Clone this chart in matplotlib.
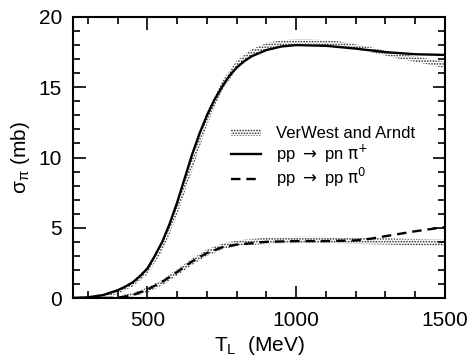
import matplotlib
matplotlib.use("Agg")
import matplotlib.pyplot as plt
from matplotlib.patches import Patch
from matplotlib.lines import Line2D
from matplotlib.ticker import MultipleLocator

plt.rcParams['font.family'] = ['Liberation Sans', 'DejaVu Sans']
plt.rcParams['hatch.linewidth'] = 0.8

# pp -> pn pi+ (model)
t_pn = [250, 300, 350, 400, 425, 450, 475, 500, 525, 550, 575, 600, 625, 650, 675, 700,
        725, 750, 775, 800, 825, 850, 900, 950, 1000, 1100, 1200, 1300, 1400, 1500]
s_pn = [0, 0.05, 0.2, 0.55, 0.8, 1.1, 1.55, 2.1, 3.0, 4.0, 5.3, 6.8, 8.5, 10.2, 11.7, 13.0,
        14.1, 15.0, 15.8, 16.4, 16.85, 17.2, 17.65, 17.9, 18.0, 17.95, 17.75, 17.5, 17.35, 17.3]

# pp -> pp pi0 (model)
t_pp = [250, 300, 350, 400, 450, 500, 550, 600, 650, 700, 750, 800, 900, 1000, 1100,
        1200, 1250, 1300, 1400, 1500]
s_pp = [0, 0, 0, 0.02, 0.2, 0.6, 1.15, 1.85, 2.6, 3.2, 3.6, 3.8, 4.0, 4.05, 4.05,
        4.1, 4.22, 4.4, 4.75, 5.05]

# VerWest and Arndt bands
t_vw1 = [300, 350, 400, 450, 500, 550, 600, 650, 700, 750, 800, 850, 900, 950, 1000,
         1050, 1100, 1150, 1200, 1250, 1300, 1350, 1400, 1450, 1500]
lo_vw1 = [0, 0.05, 0.3, 0.8, 1.7, 3.3, 5.9, 9.1, 12.3, 14.7, 16.3, 17.2, 17.7, 17.95, 18.05,
          18.05, 18.0, 17.9, 17.75, 17.5, 17.25, 17.0, 16.8, 16.6, 16.35]
hi_vw1 = [0.1, 0.3, 0.6, 1.2, 2.2, 4.0, 6.8, 10.0, 13.2, 15.4, 16.9, 17.7, 18.15, 18.35, 18.4,
          18.4, 18.35, 18.25, 18.05, 17.85, 17.6, 17.4, 17.2, 17.0, 16.8]

t_vw0 = [400, 450, 500, 550, 600, 650, 700, 750, 800, 900, 1000, 1100, 1200, 1300, 1400, 1500]
lo_vw0 = [0, 0.1, 0.4, 0.9, 1.6, 2.35, 3.0, 3.45, 3.7, 3.85, 3.9, 3.9, 3.85, 3.8, 3.75, 3.7]
hi_vw0 = [0.15, 0.35, 0.75, 1.3, 2.05, 2.8, 3.45, 3.85, 4.1, 4.3, 4.35, 4.35, 4.3, 4.25, 4.2, 4.15]

fig = plt.figure(figsize=(4.7, 3.61), dpi=100)
ax = fig.add_axes([73 / 470, 63 / 361, 372 / 470, 281 / 361])

ax.fill_between(t_vw1, lo_vw1, hi_vw1, facecolor='none', edgecolor='0.15',
                hatch='......', linewidth=0)
ax.fill_between(t_vw0, lo_vw0, hi_vw0, facecolor='none', edgecolor='0.15',
                hatch='......', linewidth=0)
ax.plot(t_pn, s_pn, color='black', lw=1.7)
ax.plot(t_pp, s_pp, color='black', lw=1.7, ls=(0, (4, 2.5)))

ax.set_xlim(250, 1500)
ax.set_ylim(0, 20)
ax.xaxis.set_major_locator(MultipleLocator(500))
ax.xaxis.set_minor_locator(MultipleLocator(100))
ax.yaxis.set_major_locator(MultipleLocator(5))
ax.yaxis.set_minor_locator(MultipleLocator(1))
ax.tick_params(which='both', direction='in', top=True, right=True, width=1.2, labelsize=15)
ax.tick_params(which='major', length=9)
ax.tick_params(which='minor', length=5)
ax.tick_params(axis='y', pad=8)
ax.tick_params(axis='x', pad=9)
for sp in ax.spines.values():
    sp.set_linewidth(1.5)

ax.set_xlabel(r'T$_\mathregular{L}$  (MeV)', fontsize=15, labelpad=3)
ax.set_ylabel(r'$\mathregular{\sigma_\pi}$ (mb)', fontsize=15, labelpad=5)

handles = [Patch(facecolor='none', edgecolor='0.15', hatch='......', linewidth=0),
           Line2D([], [], color='black', lw=1.7),
           Line2D([], [], color='black', lw=1.7, ls=(0, (4, 2.5)))]
labels = ['VerWest and Arndt', r'pp $\rightarrow$ pn $\mathrm{\pi}^{+}$',
          r'pp $\rightarrow$ pp $\mathrm{\pi}^{0}$']
ax.legend(handles, labels, loc='upper left', bbox_to_anchor=(0.403, 0.64), frameon=False,
          fontsize=12, handlelength=1.8, handleheight=0.35, labelspacing=0.05,
          handletextpad=0.9, borderpad=0)

fig.savefig('out.png', dpi=100)
